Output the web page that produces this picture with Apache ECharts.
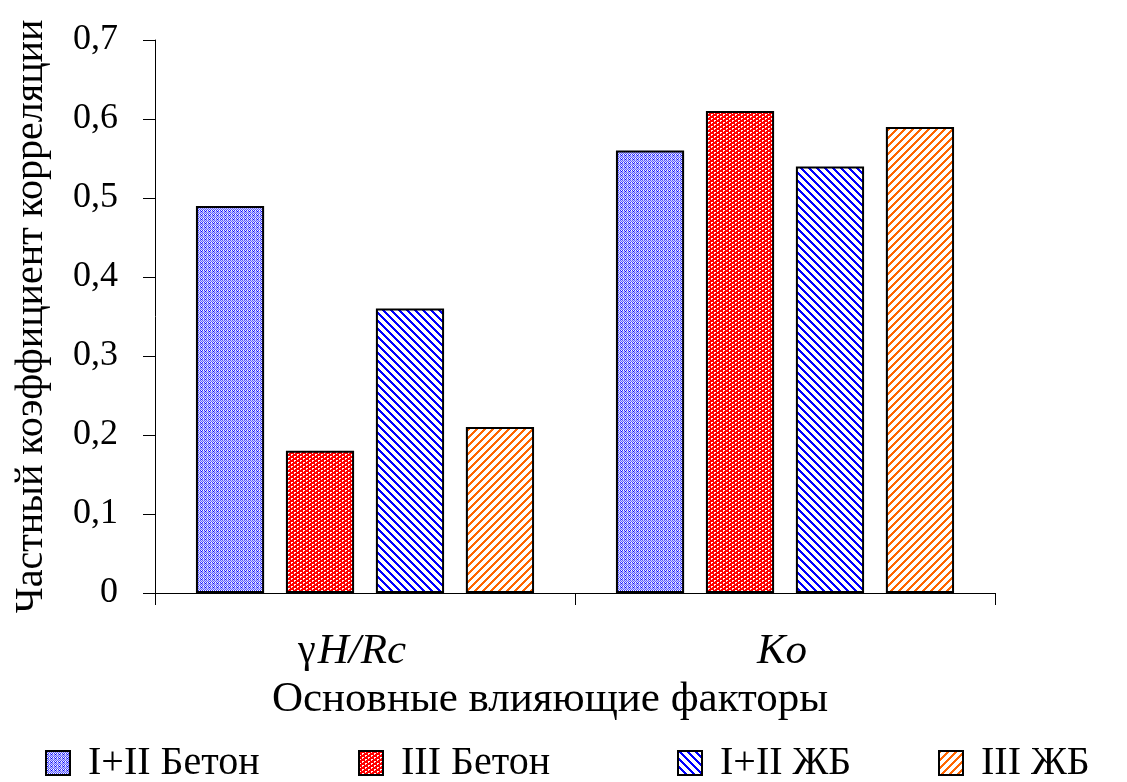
<!DOCTYPE html>
<html>
<head>
<meta charset="utf-8">
<script src="https://cdn.jsdelivr.net/npm/echarts@6/dist/echarts.min.js"></script>
<style>html,body{margin:0;padding:0;background:#fff}#c{width:1127px;height:782px}</style>
</head>
<body>
<div id="c"></div>
<script>
// ---- data ----
const categories = ['γH/Rc', 'Ko'];
const seriesNames = ['I+II Бетон', 'III Бетон', 'I+II ЖБ', 'III ЖБ'];
const valsBlueDot = [0.49, 0.56];
const valsRedDot = [0.18, 0.61];
const valsBlueHatch = [0.36, 0.54];
const valsOrangeHatch = [0.21, 0.59];
const yTicks = ['0', '0,1', '0,2', '0,3', '0,4', '0,5', '0,6', '0,7'];

// ---- patterns ----
function tile(w, h, fn) {
  const c = document.createElement('canvas');
  c.width = w; c.height = h;
  const ctx = c.getContext('2d');
  for (let y = 0; y < h; y++) for (let x = 0; x < w; x++) {
    ctx.fillStyle = fn(x, y);
    ctx.fillRect(x, y, 1, 1);
  }
  return c;
}
const patBlueDot = tile(8, 4, (x, y) => {
  if (y === 3) return (x % 4 === 1) ? '#0000ff' : '#b0b0ff';
  if (y === 2) return ((x + y) % 2 === 0) ? '#3333ff' : '#ffffff';
  return ((x + y) % 2 === 0) ? '#6060ff' : '#d0d0ff';
});
const patRedDot = tile(6, 4, (x, y) => {
  if (y === 0 && (x === 0 || x === 1)) return '#ffffff';
  if (y === 2 && (x === 3 || x === 4)) return '#ffffff';
  if (y === 1 && x === 0) return '#ffdddd';
  if (y === 3 && x === 3) return '#ffdddd';
  return '#ff0000';
});
const patBlueHatch = tile(8, 8, (x, y) => (((x - y) % 8 + 8) % 8 < 3) ? '#0000ff' : '#ffffff');
const patOrangeHatch = tile(8, 8, (x, y) => (((x + y) % 8) < 3) ? '#ff6600' : '#ffffff');

const fills = [patBlueDot, patRedDot, patBlueHatch, patOrangeHatch];
const values = [valsBlueDot, valsRedDot, valsBlueHatch, valsOrangeHatch];

const FONT = 'Liberation Serif';
const chart = echarts.init(document.getElementById('c'));

const legendLefts = [45, 358, 677, 938];
const legends = seriesNames.map((n, i) => ({
  data: [{ name: n, icon: 'rect' }],
  left: legendLefts[i],
  top: 743,
  padding: 0,
  itemWidth: 24,
  itemHeight: 24,
  textStyle: { fontFamily: FONT, fontSize: 40, color: '#000', padding: [0, 0, 0, 13] }
}));

chart.setOption({
  animation: false,
  backgroundColor: '#fff',
  grid: { left: 155, right: 132, top: 40, bottom: 189, containLabel: false, outerBoundsMode: 'none' },
  legend: legends,
  xAxis: {
    type: 'category',
    data: categories,
    name: 'Основные влияющие факторы',
    nameLocation: 'middle',
    nameGap: 62,
    nameTextStyle: { fontFamily: FONT, fontSize: 43, color: '#000', padding: [0, 50, 0, 0] },
    axisLine: { lineStyle: { color: '#000', width: 1 } },
    axisTick: { show: true, length: 12, lineStyle: { color: '#000' } },
    axisLabel: {
      margin: 37,
      fontFamily: FONT,
      fontSize: 43,
      color: '#000',
      formatter: function (v) {
        if (v === 'γH/Rc') return '{g|γ}{i|H/Rc}';
        return '{k|' + v + '}';
      },
      rich: {
        g: { fontFamily: FONT, fontSize: 40, color: '#000', padding: [0, 2, 0, 0] },
        i: { fontFamily: FONT, fontSize: 43, fontStyle: 'italic', color: '#000', padding: [0, 26, 0, 0] },
        k: { fontFamily: FONT, fontSize: 43, fontStyle: 'italic', color: '#000', padding: [0, 6, 0, 0] }
      }
    }
  },
  yAxis: {
    type: 'value',
    min: 0, max: 0.7, interval: 0.1,
    name: 'Частный коэффициент корреляции',
    nameLocation: 'middle',
    nameGap: 104,
    nameTextStyle: { fontFamily: FONT, fontSize: 40, color: '#000' },
    axisLine: { show: true, lineStyle: { color: '#000', width: 1 } },
    axisTick: { show: true, length: 12, lineStyle: { color: '#000' } },
    splitLine: { show: false },
    axisLabel: {
      margin: 37,
      fontFamily: FONT,
      fontSize: 36,
      color: '#000',
      formatter: function (v) { return yTicks[Math.round(v * 10)]; }
    }
  },
  series: seriesNames.map((n, i) => ({
    name: n,
    type: 'bar',
    data: values[i],
    barGap: '32%',
    barCategoryGap: '19.5%',
    itemStyle: {
      color: { image: fills[i], repeat: 'repeat' },
      borderColor: '#000',
      borderWidth: 2
    }
  }))
});
</script>
</body>
</html>
